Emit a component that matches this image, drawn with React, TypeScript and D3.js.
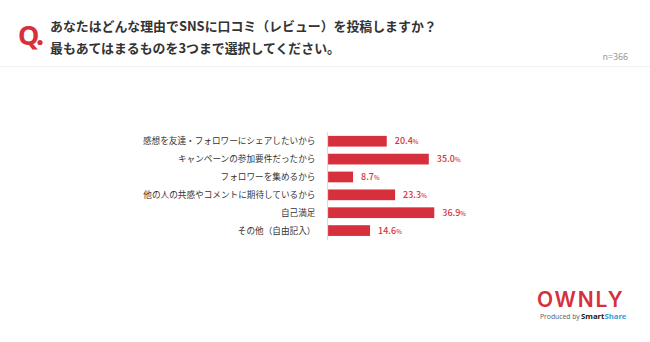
import React from "react";
import * as d3 from "d3";

const categories = [
  "感想を友達・フォロワーにシェアしたいから",
  "キャンペーンの参加要件だったから",
  "フォロワーを集めるから",
  "他の人の共感やコメントに期待しているから",
  "自己満足",
  "その他（自由記入）",
];
const values = [20.4, 35.0, 8.7, 23.3, 36.9, 14.6];
const titleLines = [
  "あなたはどんな理由でSNSに口コミ（レビュー）を投稿しますか？",
  "最もあてはまるものを3つまで選択してください。",
];
const sampleLabel = "n=366";

const RED = "#d7303d";
const FONT = "'Noto Sans CJK JP', 'Noto Sans', sans-serif";

export default function App() {
  const W = 650, H = 342;
  const x = d3.scaleLinear().domain([0, 100]).range([328, 328 + 288]);
  const y = d3.scaleBand<string>().domain(categories).range([132.3, 239.5]).paddingInner(0.4).paddingOuter(0.2);
  return (
    <div style={{ position: "absolute", left: 0, top: 0 }}>
      <svg width={W} height={H} style={{ display: "block", background: "#fff" }} fontFamily={FONT}>
        <rect x={0} y={0} width={W} height={H} fill="#fff" />
        <text x={18} y={45} fontSize={27} fontWeight={700} fill={RED} fontFamily="'Noto Sans', sans-serif">Q</text>
        <circle cx={40} cy={42.5} r={2.6} fill={RED} />
        {titleLines.map((t, i) => (
          <text key={i} x={50} y={31 + i * 21.5} fontSize={12.9} fontWeight={700} fill="#333">{t}</text>
        ))}
        <text x={628} y={60} fontSize={9} fill="#999" textAnchor="end">{sampleLabel}</text>
        <line x1={0} x2={W} y1={66.5} y2={66.5} stroke="#f2f2f2" strokeWidth={1} />
        {categories.map((c, i) => {
          const yy = y(c)!;
          const bw = y.bandwidth();
          return (
            <g key={c}>
              <text x={315.5} y={yy + bw / 2} dy="0.35em" fontSize={8.65} fill="#333" textAnchor="end">{c}</text>
              <rect x={x(0)} y={yy} width={x(values[i]) - x(0)} height={bw} fill={RED} />
              <text x={x(values[i]) + 8} y={yy + bw / 2} dy="0.36em" fontSize={9} fontWeight={500} fill={RED}>
                {values[i].toFixed(1)}
                <tspan fontSize={6}>%</tspan>
              </text>
            </g>
          );
        })}
        <line x1={327.5} x2={327.5} y1={132} y2={240} stroke="#ddd" strokeWidth={1.2} />
        <text x={537} y={307} fontSize={21} fontWeight={600} fill={RED} letterSpacing={1.8} fontFamily="Inter, sans-serif">OWNLY</text>
        <text x={540} y={319} fontSize={6.8} fill="#666" fontFamily="'Noto Sans', sans-serif">Produced by</text>
        <text x={581} y={319} fontSize={7.8} fontWeight={700} fill="#222" fontFamily="'Noto Sans', sans-serif">Smart<tspan fill="#3aa0d8">Share</tspan></text>
      </svg>
    </div>
  );
}
